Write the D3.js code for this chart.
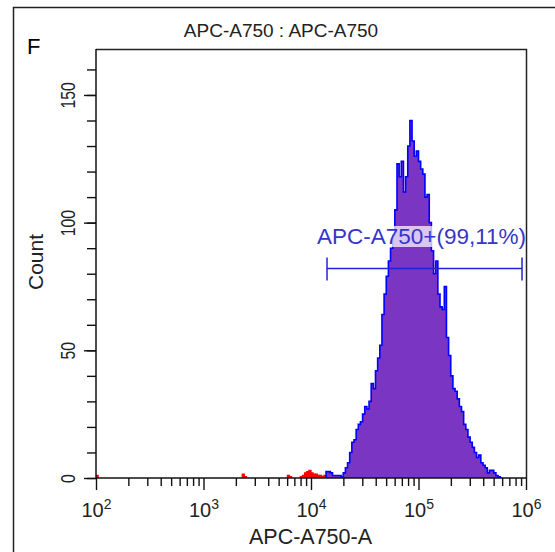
<!DOCTYPE html>
<html>
<head>
<meta charset="utf-8">
<script src="https://cdn.jsdelivr.net/npm/d3@7/dist/d3.min.js"></script>
<style>
  html, body { margin: 0; padding: 0; background: #fff; }
  svg { display: block; }
  text { font-family: "Liberation Sans", Arial, sans-serif; }
</style>
</head>
<body>
<svg id="chart" width="555" height="552"></svg>
<script>
// ---- data ----
const panelLetter = "F";
const chartTitle = "APC-A750 : APC-A750";
const xAxisTitle = "APC-A750-A";
const yAxisTitle = "Count";
const yTickValues = [0, 50, 100, 150];
const xDecades = [2, 3, 4, 5, 6];
const binStep = 0.02; // log10 units per bin

// events outside the gate (red), log10 bin starts and counts
const redBinLogs = [2.00, 3.36, 3.38, 3.78, 3.80, 3.90, 3.92, 3.94, 3.96, 3.98, 4.00, 4.02, 4.04, 4.06, 4.08, 4.10, 4.12];
const redCounts  = [1.0, 1.5, 0.5, 1.0, 0.5, 0.5, 1.0, 2.0, 2.5, 3.0, 2.0, 1.5, 1.5, 1.0, 1.0, 0.5, 1.0];

// gated events (purple/blue), consecutive bins starting at log10 = 4.14
const gatedStartLog = 4.14;
const gatedCounts = [
  2.5, 2.5, 2, 1, 1, 1, 1, 0.5, 2, 4,
  6, 10, 14, 15, 19, 21, 22, 25, 28, 27,
  30, 37, 35, 42, 47, 52, 64, 72, 79, 85,
  90, 95, 105, 123, 118, 124, 112, 118, 130, 140,
  132, 126, 128, 124, 121, 119, 110, 111, 100, 89,
  80, 85, 72, 67, 66, 75, 55, 48, 40, 35,
  34, 31, 28, 26, 21, 19, 16, 14, 12, 10,
  8, 9, 6, 5, 4, 2, 3, 3, 2, 1,
  0.5, 0
];

const gateName = "APC-A750+(99,11%)";
const gateFromLog = 4.149;
const gateToLog = 5.963;
const gateLevel = 82;

// ---- drawing ----
const svg = d3.select("#chart");
const pLeft = 96, pRight = 526, pTop = 49, pBottom = 478;

const x = d3.scaleLog().domain([1e2, 1e6]).range([pLeft, pRight]);
const y = d3.scaleLinear().domain([0, 168]).range([pBottom, pTop]);

// outer frame
svg.append("path")
  .attr("d", `M13.5,552 L13.5,7.5 L555,7.5`)
  .attr("fill", "none").attr("stroke", "#222").attr("stroke-width", 1.5);

// panel letter
svg.append("text").text(panelLetter)
  .attr("x", 27).attr("y", 54)
  .attr("font-family", "'Open Sans', 'Liberation Sans', sans-serif")
  .attr("font-size", 22).attr("fill", "#000");

// title
svg.append("text").text(chartTitle)
  .attr("x", 281).attr("y", 37)
  .attr("text-anchor", "middle")
  .attr("font-size", 19).attr("fill", "#222");

svg.append("clipPath").attr("id", "plotclip")
  .append("rect").attr("x", pLeft).attr("y", pTop).attr("width", pRight - pLeft).attr("height", pBottom - pTop);

const plot = svg.append("g").attr("clip-path", "url(#plotclip)");

// histogram data
const redData = redBinLogs.map((l, i) => ({ l, c: redCounts[i] }));
const gatedData = gatedCounts.map((c, i) => ({ l: gatedStartLog + i * binStep, c }));

function stepArea(data) {
  const pts = [];
  data.forEach(d => {
    pts.push({ l: d.l, c: d.c });
    pts.push({ l: d.l + binStep, c: d.c });
  });
  pts.unshift({ l: data[0].l, c: 0 });
  pts.push({ l: data[data.length - 1].l + binStep, c: 0 });
  return pts;
}

const area = d3.area()
  .x(d => x(Math.pow(10, d.l)))
  .y0(y(0))
  .y1(d => y(d.c));
const line = d3.line()
  .x(d => x(Math.pow(10, d.l)))
  .y(d => y(d.c));

// red events drawn as separate small step shapes
redData.forEach(d => {
  const pts = stepArea([d]);
  plot.append("path").attr("d", area(pts)).attr("fill", "#ff0000");
  plot.append("path").attr("d", line(pts)).attr("fill", "none").attr("stroke", "#ff0000").attr("stroke-width", 1.2);
});

const gpts = stepArea(gatedData);
plot.append("path").attr("d", area(gpts)).attr("fill", "#7a35c2");
plot.append("path").attr("d", line(gpts)).attr("fill", "none")
  .attr("stroke", "#0000ff").attr("stroke-width", 1.6).attr("stroke-linejoin", "miter");

// gate label background + text
const gateColor = "#2323d6";
const labelG = plot.append("g");
const lbl = labelG.append("text").text(gateName)
  .attr("x", 317).attr("y", 244)
  .attr("font-size", 22.5).attr("fill", "#3535c8");
const bb = lbl.node().getBBox();
labelG.insert("rect", "text")
  .attr("x", bb.x - 2).attr("y", bb.y + 2).attr("width", bb.width + 4).attr("height", bb.height - 4)
  .attr("fill", "#ffffff").attr("fill-opacity", 0.72);

// gate bar
const gy = y(gateLevel);
const gx1 = x(Math.pow(10, gateFromLog)), gx2 = x(Math.pow(10, gateToLog));
svg.append("line").attr("x1", gx1).attr("x2", gx2).attr("y1", gy).attr("y2", gy)
  .attr("stroke", gateColor).attr("stroke-width", 1.5);
[gx1, gx2].forEach(gx => {
  svg.append("line").attr("x1", gx).attr("x2", gx).attr("y1", gy - 11).attr("y2", gy + 12)
    .attr("stroke", gateColor).attr("stroke-width", 1.5);
});

// plot box top and right
svg.append("path")
  .attr("d", `M${pLeft},${pTop + 0.5} L${pRight + 0.5},${pTop + 0.5} L${pRight + 0.5},${pBottom}`)
  .attr("fill", "none").attr("stroke", "#222").attr("stroke-width", 1.5);

// y axis
const yMinor = d3.range(0, 161, 10);
const yAxisMinor = d3.axisLeft(y).tickValues(yMinor).tickSize(9).tickFormat("");
const yAxisMajor = d3.axisLeft(y).tickValues(yTickValues).tickSize(12).tickFormat(d3.format("d"));
const gyMin = svg.append("g").attr("transform", `translate(${pLeft},0)`).call(yAxisMinor);
gyMin.select(".domain").remove();
const gyMaj = svg.append("g").attr("transform", `translate(${pLeft},0)`).call(yAxisMajor);
gyMaj.select(".domain").remove();
svg.selectAll("g .tick line").attr("stroke", "#111").attr("stroke-width", 1.4);
gyMaj.selectAll(".tick text")
  .attr("font-size", 21).attr("fill", "#222")
  .attr("x", 0).attr("y", 0).attr("dy", null)
  .attr("text-anchor", "middle")
  .attr("transform", "translate(-21,0) rotate(-90) scale(0.75,1)");
svg.append("line").attr("x1", pLeft).attr("x2", pLeft).attr("y1", pTop).attr("y2", pBottom)
  .attr("stroke", "#111").attr("stroke-width", 1.5);

// x axis
const xMinorVals = [];
for (let e = 2; e < 6; e++) for (let m = 2; m <= 9; m++) xMinorVals.push(m * Math.pow(10, e));
const xAxisMinor = d3.axisBottom(x).tickValues(xMinorVals).tickSize(8).tickFormat("");
const xAxisMajor = d3.axisBottom(x).tickValues(xDecades.map(e => Math.pow(10, e))).tickSize(12).tickFormat("");
const gxMin = svg.append("g").attr("transform", `translate(0,${pBottom})`).call(xAxisMinor);
gxMin.select(".domain").remove();
const gxMaj = svg.append("g").attr("transform", `translate(0,${pBottom})`).call(xAxisMajor);
gxMaj.select(".domain").remove();
svg.selectAll("g .tick line").attr("stroke", "#111").attr("stroke-width", 1.4);
gxMaj.selectAll(".tick").each(function(d, i) {
  const t = d3.select(this).append("text")
    .attr("y", 39).attr("x", 0).attr("text-anchor", "middle")
    .attr("font-size", 20).attr("fill", "#222");
  t.append("tspan").text("10");
  t.append("tspan").text(xDecades[i]).attr("dy", -8).attr("font-size", 14);
});
svg.append("line").attr("x1", pLeft).attr("x2", pRight).attr("y1", pBottom).attr("y2", pBottom)
  .attr("stroke", "#111").attr("stroke-width", 1.5);

// axis titles
svg.append("text").text(xAxisTitle)
  .attr("x", 310.5).attr("y", 544).attr("text-anchor", "middle")
  .attr("font-size", 21.5).attr("fill", "#222");
svg.append("text").text(yAxisTitle)
  .attr("transform", "translate(43,262) rotate(-90)")
  .attr("text-anchor", "middle")
  .attr("font-size", 21).attr("fill", "#222");
</script>
</body>
</html>
